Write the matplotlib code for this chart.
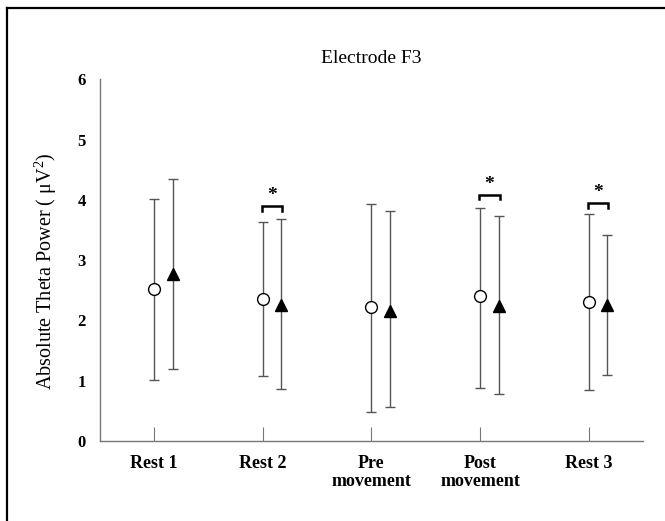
import numpy as np
from matplotlib import pyplot as plt
from matplotlib.lines import Line2D

plt.rcParams['font.family'] = ['Liberation Serif', 'DejaVu Serif']
plt.rcParams['mathtext.fontset'] = 'custom'
plt.rcParams['mathtext.rm'] = 'Liberation Serif'

categories = ["Rest 1", "Rest 2", "Pre\nmovement", "Post\nmovement", "Rest 3"]

# open circles
circle_mean = [2.52, 2.36, 2.22, 2.40, 2.31]
circle_upper = [4.02, 3.64, 3.94, 3.87, 3.76]
circle_lower = [1.01, 1.08, 0.48, 0.88, 0.85]

# filled triangles
tri_mean = [2.77, 2.25, 2.16, 2.24, 2.25]
tri_upper = [4.35, 3.68, 3.81, 3.73, 3.42]
tri_lower = [1.20, 0.86, 0.57, 0.78, 1.10]

# significance brackets: category index, bracket height
sig_idx = [1, 3, 4]
sig_height = [3.90, 4.09, 3.95]

offset = 0.17
x = np.arange(len(categories))

fig = plt.figure(figsize=(6.65, 5.21), dpi=100)
ax = fig.add_axes([0.150, 0.1536, 0.817, 0.694])

err_c = [np.array(circle_mean) - np.array(circle_lower), np.array(circle_upper) - np.array(circle_mean)]
err_t = [np.array(tri_mean) - np.array(tri_lower), np.array(tri_upper) - np.array(tri_mean)]

ax.errorbar(x, circle_mean, yerr=err_c, fmt='o', mfc='white', mec='black', mew=1.0,
            ms=8.5, ecolor='#555555', elinewidth=1.0, capsize=3.6, capthick=1.0, zorder=3)
ax.errorbar(x + offset, tri_mean, yerr=err_t, fmt='^', mfc='black', mec='black',
            ms=9, ecolor='#555555', elinewidth=1.0, capsize=3.6, capthick=1.0, zorder=3)

for i, h in zip(sig_idx, sig_height):
    ax.plot([x[i] - 0.01, x[i] - 0.01, x[i] + offset + 0.01, x[i] + offset + 0.01],
            [h - 0.08, h, h, h - 0.08], color='black', lw=1.8, solid_joinstyle='miter')
    ax.text(x[i] + offset / 2, h + 0.03, '*', ha='center', va='bottom',
            fontsize=14, fontweight='bold')

ax.set_xlim(-0.5, 4.5)
ax.set_ylim(0, 6)
ax.set_xticks(x)
ax.set_xticklabels(categories, fontweight='bold', fontsize=13, linespacing=1.1)
ax.set_yticks(range(7))
ax.set_yticklabels([str(v) for v in range(7)], fontweight='bold', fontsize=12)
ax.tick_params(axis='x', direction='in', length=10, color='#777777', pad=10)
ax.tick_params(axis='y', length=0, pad=10)

for s in ['top', 'right']:
    ax.spines[s].set_visible(False)
for s in ['left', 'bottom']:
    ax.spines[s].set_color('#777777')
    ax.spines[s].set_linewidth(1.0)

ax.set_ylabel('Absolute Theta Power ( μV$^2$)', fontsize=14.5)
ax.yaxis.set_label_coords(-0.075, 0.47)
ax.set_title('Electrode F3', fontsize=14, pad=12)

# frame around the figure (only top and left visible in crop)
fig.add_artist(Line2D([7 / 665, 1], [1 - 8 / 521, 1 - 8 / 521], color='black', lw=1.6))
fig.add_artist(Line2D([7 / 665, 7 / 665], [0, 1 - 8 / 521], color='black', lw=1.6))

plt.savefig("out.png")
